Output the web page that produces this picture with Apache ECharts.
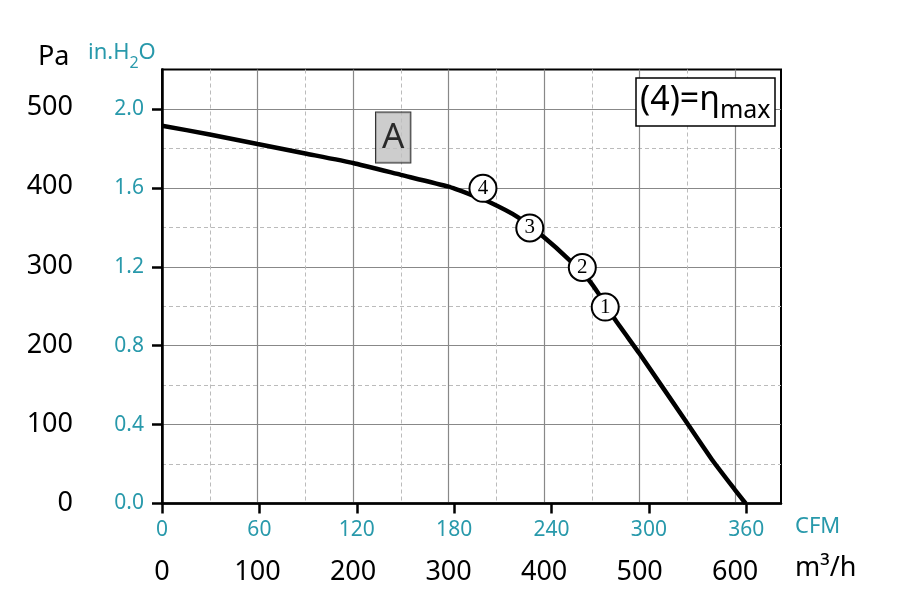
<!DOCTYPE html>
<html><head><meta charset="utf-8">
<script src="https://cdn.jsdelivr.net/npm/echarts@6/dist/echarts.min.js"></script>
<style>html,body{margin:0;padding:0;background:#fff}#c{width:907px;height:604px}</style>
</head><body><div id="c"></div>
<script>
// ---- data ----
const flowM3h    = [0, 50, 100, 150, 200, 250, 300, 323, 342, 372, 399, 426, 447, 457, 475, 500, 550, 576, 600, 611];
const pressurePa = [477, 466, 454, 442, 430, 415, 400, 390, 381, 362, 337, 308, 282, 265, 231, 189, 101, 55, 17, 0];
const pointLabels = ['4', '3', '2', '1'];
const pointM3h    = [336, 385, 440, 464];
const pointPa     = [398, 348, 298, 248];
const curveName   = 'A';
const curveNameM3h = 242;
const curveNamePa  = 462;
const m3hTicks   = [0, 100, 200, 300, 400, 500, 600];
const m3hMinor   = [50, 150, 250, 350, 450, 550];
const cfmTicks   = [0, 60, 120, 180, 240, 300, 360];
const inH2OTicks = [0, 0.4, 0.8, 1.2, 1.6, 2.0];
const inH2OMinor = [0.2, 0.6, 1.0, 1.4, 1.8];
const paTicks    = [0, 100, 200, 300, 400, 500];

const X_MAX_M3H = 648;
const M3H_PER_CFM = 1.69901;
const Y_MAX_IN = 2.2;
const PA_PER_IN = 249.0889;

const TEAL = '#2899ab';
const FONT = 'Noto Sans';

const chart = echarts.init(document.getElementById('c'), null, {renderer: 'canvas'});
const grid = {left: 162, top: 69.5, width: 619, height: 434, show: true, borderColor: '#000', borderWidth: 2, backgroundColor: 'transparent'};

const option = {
  animation: false,
  backgroundColor: '#fff',
  grid: grid,
  title: [{
    left: 636, top: 78,
    text: '{a|(4)=η}{b|max}',
    padding: [5, 5, 3, 4],
    borderColor: '#000', borderWidth: 1.5,
    backgroundColor: '#fff',
    textStyle: {
      fontWeight: 'normal',
      rich: {
        a: {fontFamily: FONT, fontSize: 34, fontWeight: 'normal', color: '#000', verticalAlign: 'top'},
        b: {fontFamily: FONT, fontSize: 25, fontWeight: 'normal', color: '#000', verticalAlign: 'top', padding: [15, 0, 0, 0]}
      }
    }
  }],
  graphic: [
    {type: 'text', left: 38, top: 44, style: {text: 'Pa', font: '27px "Noto Sans"', fill: '#000'}},
    {type: 'text', left: 88, top: 42, style: {text: '{a|in.H}{s|2}{a|O}', rich: {
      a: {fontFamily: FONT, fontSize: 22, fill: TEAL, color: TEAL, verticalAlign: 'top'},
      s: {fontFamily: FONT, fontSize: 16, fill: TEAL, color: TEAL, verticalAlign: 'top', padding: [13, 0, 0, 0]}
    }}},
    {type: 'text', left: 795, top: 516, style: {text: 'CFM', font: '22px "Noto Sans"', fill: TEAL}},
    {type: 'text', left: 795, top: 555, style: {text: 'm³/h', font: '27px "Noto Sans"', fill: '#000'}}
  ],
  xAxis: [
    { // m3/h
      type: 'value', min: 0, max: X_MAX_M3H, position: 'bottom', gridIndex: 0,
      axisLine: {show: false},
      axisTick: {show: false, customValues: m3hTicks},
      axisLabel: {customValues: m3hTicks, fontFamily: FONT, fontSize: 27, color: '#000', margin: 55},
      splitLine: {show: true, lineStyle: {color: '#888', width: 1.2, type: 'solid'}}
    },
    { // CFM
      type: 'value', min: 0, max: X_MAX_M3H / M3H_PER_CFM, position: 'bottom', gridIndex: 0,
      axisLine: {show: true, onZero: false, lineStyle: {color: '#000', width: 2.5}},
      axisTick: {show: true, inside: false, length: 10, customValues: cfmTicks, lineStyle: {color: '#000', width: 2.5}},
      axisLabel: {customValues: cfmTicks, fontFamily: FONT, fontSize: 21, color: TEAL, margin: 16},
      splitLine: {show: false}
    },
    { // minor grid
      type: 'value', min: 0, max: X_MAX_M3H, position: 'bottom', gridIndex: 0,
      axisLine: {show: false},
      axisTick: {show: false, customValues: m3hMinor},
      axisLabel: {show: false},
      splitLine: {show: true, lineStyle: {color: '#bbb', width: 1, type: [4, 3]}}
    }
  ],
  yAxis: [
    { // Pa
      type: 'value', min: 0, max: Y_MAX_IN * PA_PER_IN, position: 'left', gridIndex: 0,
      axisLine: {show: false},
      axisTick: {show: false, customValues: paTicks},
      axisLabel: {customValues: paTicks, fontFamily: FONT, fontSize: 27, color: '#000', margin: 89},
      splitLine: {show: false}
    },
    { // in.H2O
      type: 'value', min: 0, max: Y_MAX_IN, position: 'left', gridIndex: 0,
      axisLine: {show: true, onZero: false, lineStyle: {color: '#000', width: 2.5}},
      axisTick: {show: true, inside: false, length: 10, customValues: inH2OTicks, lineStyle: {color: '#000', width: 2.5}},
      axisLabel: {customValues: inH2OTicks, fontFamily: FONT, fontSize: 21, color: TEAL, margin: 18,
                  formatter: v => v.toFixed(1)},
      splitLine: {show: true, lineStyle: {color: '#888', width: 1.2, type: 'solid'}}
    },
    { // minor grid
      type: 'value', min: 0, max: Y_MAX_IN, position: 'left', gridIndex: 0,
      axisLine: {show: false},
      axisTick: {show: false, customValues: inH2OMinor},
      axisLabel: {show: false},
      splitLine: {show: true, lineStyle: {color: '#bbb', width: 1, type: [4, 3]}}
    }
  ],
  series: [
    {
      type: 'line', xAxisIndex: 0, yAxisIndex: 0,
      data: flowM3h.map((x, i) => [x, pressurePa[i]]),
      symbol: 'none', smooth: 0.15,
      lineStyle: {color: '#000', width: 4.5},
      z: 3
    },
    {
      type: 'scatter', xAxisIndex: 0, yAxisIndex: 0,
      data: pointM3h.map((x, i) => ({name: pointLabels[i], value: [x, pointPa[i]]})),
      symbol: 'circle', symbolSize: 27,
      itemStyle: {color: '#fff', borderColor: '#000', borderWidth: 2, opacity: 1},
      label: {show: true, position: 'inside', formatter: p => p.name,
              fontFamily: 'Liberation Serif', fontSize: 21, color: '#000'},
      z: 4
    },
    {
      type: 'scatter', xAxisIndex: 0, yAxisIndex: 0,
      data: [{name: curveName, value: [curveNameM3h, curveNamePa]}],
      symbolSize: 1, itemStyle: {color: 'transparent'},
      label: {show: true, position: 'inside', formatter: p => p.name,
              fontFamily: FONT, fontSize: 35, color: '#000', lineHeight: 40,
              backgroundColor: '#c0c0c0', borderColor: '#000', borderWidth: 1,
              padding: [5, 6, 5, 6]},
      z: 4
    }
  ]
};
chart.setOption(option);
</script>
</body></html>
